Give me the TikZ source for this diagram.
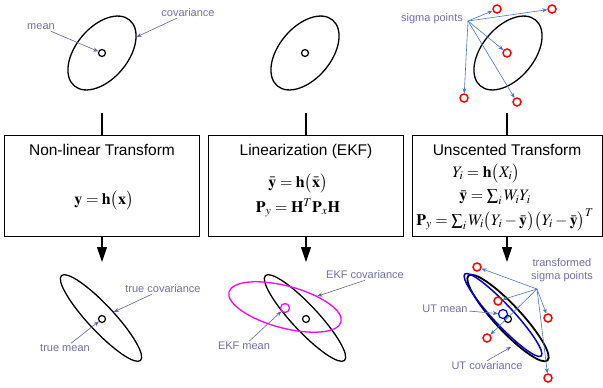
\documentclass[tikz,border=0pt]{standalone}
\usepackage{amsmath}
\usepackage{mathptmx}
\usepackage{fontspec}
\setmainfont{Liberation Serif}
\setsansfont{Liberation Sans}
\usetikzlibrary{arrows.meta,positioning,shapes.geometric}
\definecolor{lblcol}{RGB}{112,112,172}
\definecolor{lblarrcol}{RGB}{96,96,160}
\definecolor{sigcol}{RGB}{72,118,196}
\definecolor{ekfcol}{RGB}{255,0,255}
\definecolor{utcol}{RGB}{0,0,235}

\begin{document}
\begin{tikzpicture}[
 x=1pt,y=-1pt,
 box/.style={draw,line width=0.8pt,minimum width=195pt,minimum height=101pt,inner sep=0},
 ttl/.style={font=\sffamily\fontsize{15.5}{17}\selectfont,inner sep=0},
 eq/.style={font=\fontsize{16}{18}\selectfont,inner sep=0},
 cov/.style={draw,ellipse,line width=1.3pt,inner sep=0},
 wide/.style={minimum width=86pt,minimum height=52pt,rotate=50},
 thin/.style={minimum width=116pt,minimum height=26pt,rotate=-47},
 mean/.style={draw,circle,line width=1.2pt,minimum size=7pt,inner sep=0},
 sig/.style={draw=red,circle,line width=1.5pt,minimum size=8pt,inner sep=0},
 lbl/.style={text=lblcol,font=\sffamily\fontsize{11}{13}\selectfont,inner sep=1pt,align=center},
 lblarr/.style={draw=lblarrcol,line width=0.6pt,-{Stealth[length=5pt,width=4pt]}},
 sigarr/.style={draw=sigcol,line width=0.6pt,-{Stealth[length=5pt,width=4pt]}},
 flow/.style={line width=1.2pt},
 down/.style={line width=1.2pt,-{Triangle[length=15pt,width=10pt]}}
]
\useasboundingbox[fill=white] (0,0) rectangle (603,388);

% boxes
\node[box] (b1) at (102,185.5) {};
\node[box] (b2) at (306,185.5) {};
\node[box,minimum width=190pt] (b3) at (507,185.5) {};
\node[ttl,below=9pt of b1.north] (ttl1) {Non-linear Transform};
\node[ttl,below=9pt of b2.north] (ttl2) {Linearization (EKF)};
\node[ttl,below=9pt of b3.north] (ttl3) {Unscented Transform};
\node[eq] (eq1) at (104,200) {$\mathbf{y}=\mathbf{h}\bigl(\mathbf{x}\bigr)$};
\node[eq] (eq2a) at (298,183) {$\bar{\mathbf{y}}=\mathbf{h}\bigl(\bar{\mathbf{x}}\bigr)$};
\node[eq] (eq2b) at (298,208) {$\mathbf{P}_y=\mathbf{H}^T\mathbf{P}_x\mathbf{H}$};
\node[eq] (eq3a) at (486,173) {$Y_i=\mathbf{h}\bigl(X_i\bigr)$};
\node[eq] (eq3b) at (495,197) {$\bar{\mathbf{y}}=\sum\nolimits_i W_iY_i$};
\node[eq] (eq3c) at (505,220) {$\mathbf{P}_y=\sum\nolimits_i W_i\bigl(Y_i-\bar{\mathbf{y}}\bigr)\bigl(Y_i-\bar{\mathbf{y}}\bigr)^T$};

% flow
\coordinate (t1) at (102,113);
\coordinate (t2) at (306,113);
\coordinate (t3) at (507,113);
\coordinate (d1) at (102,262);
\coordinate (d2) at (306,262);
\coordinate (d3) at (507,262);
\draw[flow] (t1) -- (t1 |- b1.north);
\draw[flow] (t2) -- (t2 |- b2.north);
\draw[flow] (t3) -- (t3 |- b3.north);
\draw[down] (d1 |- b1.south) -- (d1);
\draw[down] (d2 |- b2.south) -- (d2);
\draw[down] (d3 |- b3.south) -- (d3);

% prior
\node[cov,wide] (c1) at (102,53) {};
\node[mean] (m1) at (102,53) {};
\node[lbl] (l1) at (41,27) {mean};
\node[lbl] (l2) at (188,13) {covariance};
\draw[lblarr] (l1) -- (m1);
\draw[lblarr] (l2) -- (c1);

\node[cov,wide] (c2) at (305,53) {};
\node[mean] (m2) at (305,53) {};

\node[cov,wide] (c3) at (508,53) {};
\node[sig] (s1) at (497,9) {};
\node[sig] (s2) at (552,9) {};
\node[sig] (s3) at (507,53) {};
\node[sig] (s4) at (464,98) {};
\node[sig] (s5) at (517,102) {};
\node[lbl] (l3) at (432,19) {sigma points};
\coordinate (sp) at (468,21);
\foreach \s in {s1,s2,s3,s4,s5}
  \draw[sigarr] (sp) -- (\s);

% true
\node[cov,thin] (c4) at (101,318) {};
\node[mean] (m4) at (102,319) {};
\node[lbl] (l4) at (163,289) {true covariance};
\node[lbl] (l5) at (65,348) {true mean};
\draw[lblarr] (l4) -- (c4);
\draw[lblarr] (l5) -- (m4);

% EKF
\node[cov,thin] (c5) at (305,318) {};
\node[mean] (m5) at (306,319) {};
\node[cov,draw=ekfcol,minimum width=116pt,minimum height=42pt,rotate=-15] (c6) at (285,307) {};
\node[mean,draw=ekfcol,minimum size=9pt] (m6) at (285,308) {};
\node[lbl] (l6) at (365,275) {EKF covariance};
\node[lbl] (l7) at (244,346) {EKF mean};
\draw[lblarr] (l6.south) -- (c6);
\draw[lblarr] (l7) -- (m6);

% UT
\node[cov,thin,line width=1.8pt] (c7) at (508,318) {};
\node[cov,draw=utcol,line width=1.5pt,minimum width=112pt,minimum height=20pt,rotate=-47] (c8) at (503,315) {};
\node[mean] (m7) at (508,319) {};
\node[mean,draw=utcol,minimum size=9pt] (m8) at (503,314) {};
\node[sig] (r1) at (477,267) {};
\node[sig] (r2) at (498,301) {};
\node[sig] (r3) at (548,318) {};
\node[sig] (r4) at (487,338) {};
\node[sig] (r5) at (548,378) {};
\node[lbl] (l8) at (562,270) {transformed\\sigma points};
\coordinate (tsp) at (537,289);
\foreach \s in {r1,r2,r3,r4,r5}
  \draw[sigarr] (tsp) -- (\s);
\node[lbl] (l9) at (445,309) {UT mean};
\node[lbl] (l10) at (487,366) {UT covariance};
\coordinate (utc) at (511,347);
\draw[lblarr] (l9) -- (m8);
\draw[lblarr] (l10.north) -- (utc);
\end{tikzpicture}
\end{document}
